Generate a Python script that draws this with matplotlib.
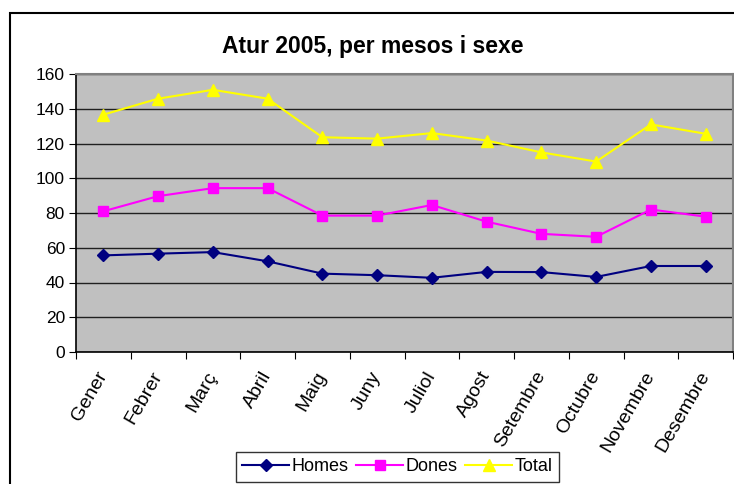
import numpy as np
import matplotlib.pyplot as plt
from matplotlib.patches import Rectangle

months = ["Gener", "Febrer", "Març", "Abril", "Maig", "Juny", "Juliol",
          "Agost", "Setembre", "Octubre", "Novembre", "Desembre"]
homes = [55.6, 56.6, 57.5, 52.2, 45.1, 44.2, 42.7, 46.1, 46.0, 43.2, 49.5, 49.5]
dones = [81, 89.7, 94.3, 94.3, 78.5, 78.5, 84.6, 75, 68, 66.3, 82, 77.9]
total = [136.6, 145.8, 150.9, 145.8, 123.6, 122.8, 126, 121.7, 114.9, 109.6, 131, 125.6]

plt.rcParams['font.family'] = ['Liberation Sans', 'DejaVu Sans']

W, H = 734, 484
fig = plt.figure(figsize=(W / 100, H / 100), dpi=100)
ax = fig.add_axes([76 / W, 1 - 352 / H, (733 - 76) / W, (352 - 74) / H])
ax.set_facecolor("#C0C0C0")

x = np.arange(len(months))
ax.plot(x, homes, color="#000080", marker="D", markersize=6.5, lw=1.5, label="Homes")
ax.plot(x, dones, color="#FF00FF", marker="s", markersize=6.5, lw=1.5, label="Dones")
ax.plot(x, total, color="#FFFF00", marker="^", markersize=9, lw=1.5, label="Total")

ax.set_ylim(0, 160)
ax.set_yticks(range(0, 161, 20))
ax.set_xlim(-0.5, len(months) - 0.5)
ax.set_xticks(np.arange(-0.5, len(months), 1.0))
ax.set_xticklabels([])
ax.set_xticks(x, minor=True)
ax.set_xticklabels(months, minor=True, rotation=60, ha="right", va="center",
                   rotation_mode="anchor", fontsize=14)
ax.tick_params(axis="x", which="minor", length=0, pad=15)
ax.tick_params(axis="x", which="major", length=5, direction="out", color="black")
ax.tick_params(axis="y", length=5, direction="out", labelsize=12.5, pad=3)
ax.grid(axis="y", color="#202020", lw=1)
ax.set_axisbelow(True)

for s in ["left", "bottom"]:
    ax.spines[s].set_color("black")
    ax.spines[s].set_linewidth(1.2)
for s in ["top", "right"]:
    ax.spines[s].set_color("#808080")
    ax.spines[s].set_linewidth(1.5)

fig.text(373 / W, 1 - 47 / H, "Atur 2005, per mesos i sexe",
         ha="center", va="center", fontsize=16.5, fontweight="bold")

# outer chart frame
fig.patches.append(Rectangle((10 / W, -0.1), 1.1, 1 - 13 / H + 0.1,
                             transform=fig.transFigure, fill=False,
                             edgecolor="black", lw=1.5))

leg = fig.legend(loc="upper left", bbox_to_anchor=(236 / W, 1 - 452 / H),
                 ncol=3, numpoints=1, fontsize=13, frameon=True, fancybox=False,
                 handlelength=2.6, handletextpad=0.15, columnspacing=0.4,
                 borderpad=0.35, borderaxespad=0)
leg.get_frame().set_edgecolor("black")
leg.get_frame().set_linewidth(1)

fig.savefig("out.png", dpi=100)
